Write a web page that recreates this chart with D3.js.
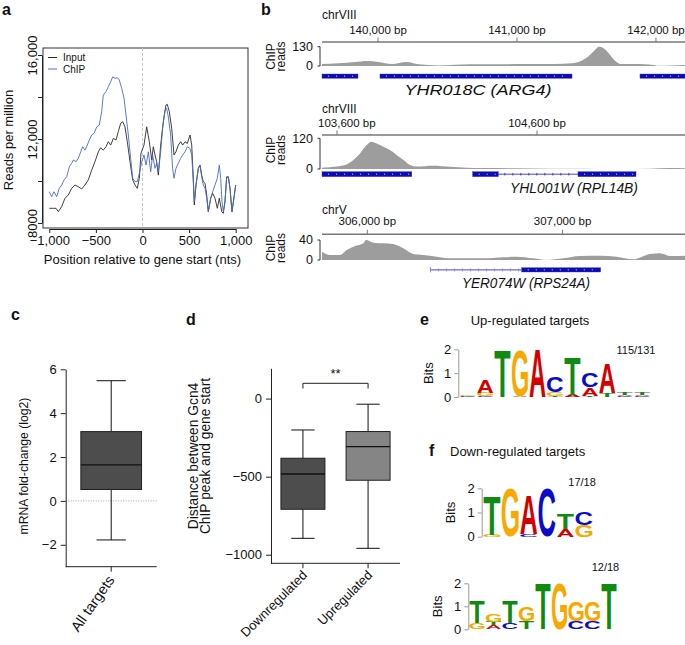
<!DOCTYPE html>
<html><head><meta charset="utf-8">
<script src="https://cdn.jsdelivr.net/npm/d3@7"></script>
<style>
body{margin:0;background:#fff}
svg{display:block}
text{font-family:"Liberation Sans",Arial,Helvetica,sans-serif}
</style></head><body>
<svg id="fig" width="685" height="645"></svg>
<script>
// ================= DATA =================
// Panel a: meta-gene profile
const aXTicks = [-1000, -500, 0, 500, 1000];
const aYTicks = [8000, 10000, 12000, 14000, 16000];
const aYTickLabels = ["8000", "", "12,000", "", "16,000"];
const aSeriesNames = ["Input", "ChIP"];
const chipPos = [-1000,-974,-950,-921,-893,-867,-842,-813,-785,-760,-742,-713,-689,-663,-642,-617,-592,-571,-545,-520,-491,-464,-438,-421,-392,-367,-341,-320,-295,-270,-249,-223,-198,-177,-152,-127,-105,-80,-56,-34,-9,16,38,63,88,109,134,152,170,195,216,241,259,277,302,323,338,359,384,410,431,456,481,510,528,545,556,574,599,617,635,652,671,689,706,732,753,778,803,824,839,853,867,885,903,921,939,960,982,1000];
const chipVal = [9490,9250,9490,9250,9650,9810,10050,10200,10680,10840,11000,10920,11080,11390,11630,11470,11710,11950,12190,12270,12580,12660,13300,14090,14250,14490,14730,14960,14890,14920,14810,14410,13940,13140,12190,11080,10130,9970,9970,10370,10900,11240,10760,11390,10440,11240,10600,10840,10440,11390,12510,13380,13460,13060,12190,10600,10130,10600,10840,11080,11240,11390,11630,11550,11240,9970,9020,9810,10600,10760,10200,9810,9650,9180,8540,9180,9490,9810,10130,10760,10130,9010,8540,9010,10130,10200,9650,8540,9180,9810];
const inputPos = [-1000,-957,-928,-903,-867,-832,-796,-760,-724,-689,-653,-617,-582,-545,-510,-474,-449,-421,-392,-367,-341,-313,-284,-260,-234,-212,-188,-163,-134,-105,-80,-56,-34,-16,16,45,73,99,116,134,152,170,195,223,252,266,288,313,338,359,384,410,431,456,481,510,528,545,556,574,599,617,635,652,671,689,706,732,753,778,803,824,850,867,885,903,921,939,960,982,1000];
const inputVal = [8700,8700,8700,8540,8780,9180,9330,9650,9810,9730,9620,9810,10050,10520,10920,11390,11580,11470,11630,11870,11710,12030,11950,12350,12750,12820,12580,11870,10920,10050,9810,9650,10130,11320,11710,12580,11870,11000,11630,11240,10920,10280,11710,12820,13620,13650,13300,12510,11240,11390,11710,11870,11710,11870,11790,12190,11710,10130,8860,9810,10600,10760,10280,9970,9890,9330,8540,9180,9410,9180,8700,9180,8540,8460,9010,10200,10200,9650,8540,9250,9810];

// Panel b: genome browser tracks
const trackChrom = ["chrVIII", "chrVIII", "chrV"];
const trackGene = ["YHR018C (ARG4)", "YHL001W (RPL14B)", "YER074W (RPS24A)"];
const trackMax = [130, 120, 40];
const t1Ticks = [140000, 141000, 142000];
const t2Ticks = [103600, 104600];
const t3Ticks = [306000, 307000];
const t1Pos = [139597,139714,139835,139919,140002,140099,140206,140290,140434,140554,140794,141034,141273,141393,141465,141525,141561,141590,141621,141657,141705,141753,141873,141969,142017,142113,142209];
const t1Cov = [13,18,27,34,27,13,27,11,4,9,11,13,13,18,36,74,108,130,121,90,36,13,13,9,2,4,7];
const t2Pos = [103525,103598,103648,103682,103715,103748,103773,103798,103832,103865,103898,103932,103965,103998,104082,104165,104248,104332,104498,104665,104832,104998,105165,105265,105340];
const t2Cov = [5,10,18,35,61,94,107,100,87,74,55,35,16,10,13,9,5,4,3,1,1,0,1,4,3];
const t3Pos = [305768,305809,305860,305895,305928,305980,305993,306031,306082,306133,306184,306236,306287,306355,306423,306509,306594,306696,306765,306850,306919,307004,307089,307191,307277,307362,307448,307499,307550,307627];
const t3Cov = [16.7,10,10,20,26.7,33.3,40,34.7,33.3,32,23.3,12,10,6.7,3.3,3.3,3.3,5.3,6.7,3.3,0,3.3,8,8.7,6.7,1.3,12,13.3,8,8.7];
const t1Exons = [[139597,139856],[140014,141396],[141885,142209]];
const t2Exons = [[103524,103974],[104278,104407],[104805,105095]];
const t2Introns = [[104407,104805]];
const t3Utr = [[306321,306791]];
const t3Exons = [[306791,307195]];

// Panel c: boxplot
const cCats = ["All targets"];
const cLow = [-1.78], cQ1 = [0.52], cMed = [1.64], cQ3 = [3.16], cHigh = [5.48];
const cYTicks = [-2, 0, 2, 4, 6];

// Panel d: boxplots
const dCats = ["Downregulated", "Upregulated"];
const dLow = [-895, -959], dQ1 = [-709, -523], dMed = [-483, -308], dQ3 = [-382, -211], dHigh = [-201, -36];
const dYTicks = [-1000, -500, 0];
const dSignif = "**";

// Panels e/f: sequence logos (bottom -> top letters, bits)
const logoUp = [
  [["A",0.02],["C",0.03],["G",0.07]],
  [["C",0.04],["G",0.14],["A",0.56]],
  [["T",1.97]],
  [["A",0.03],["G",1.95]],
  [["A",2.0]],
  [["T",0.06],["G",0.14],["C",0.66]],
  [["A",0.08],["T",1.57]],
  [["T",0.05],["A",0.34],["C",0.6]],
  [["T",0.15],["A",1.26]],
  [["C",0.03],["A",0.05],["T",0.08]],
  [["C",0.03],["A",0.06],["T",0.08]]
];
const logoDown1 = [
  [["G",0.08],["T",1.61]],
  [["G",2.0]],
  [["C",0.1],["A",1.63]],
  [["C",2.0]],
  [["A",0.3],["T",0.62]],
  [["G",0.47],["C",0.55]]
];
const logoDown2 = [
  [["G",0.26],["T",0.94]],
  [["A",0.19],["T",0.14],["G",0.36]],
  [["C",0.26],["T",0.94]],
  [["T",0.33],["G",0.65]],
  [["T",2.0]],
  [["G",2.0]],
  [["C",0.33],["G",0.87]],
  [["C",0.33],["G",0.87]],
  [["T",2.0]]
];
const logoTicks = [0, 1, 2];
const logoCounts = ["115/131", "17/18", "12/18"];
const logoTitles = ["Up-regulated targets", "Down-regulated targets"];

// ================= DRAWING =================
const FONT = '"Liberation Sans", Arial, Helvetica, sans-serif';
const svg = d3.select("#fig");
svg.append("rect").attr("width", 685).attr("height", 645).attr("fill", "#fff");

function txt(g, x, y, s, size, opts = {}) {
  const t = g.append("text").attr("x", x).attr("y", y).text(s)
    .attr("font-size", size).attr("font-family", FONT)
    .attr("text-anchor", opts.anchor || "start")
    .style("fill", opts.fill || "#111");
  if (opts.bold) t.attr("font-weight", "bold");
  if (opts.italic) t.attr("font-style", "italic");
  if (opts.rotate) t.attr("transform", `rotate(${opts.rotate},${x},${y})`);
  if (opts.dy) t.attr("dy", opts.dy);
  return t;
}
function styleAxis(g, size) {
  g.attr("font-family", FONT).attr("font-size", size);
  g.selectAll("text").style("fill", "#111");
  g.selectAll("line,path").attr("stroke", "#222");
}

// ---------- Panel a ----------
const ga = svg.append("g");
txt(ga, 2, 15, "a", 16, {bold: true});
const ax = d3.scaleLinear().domain([-1000, 1000]).range([49.3, 235.7]);
const ay = d3.scaleLinear().domain([8000, 16000]).range([223, 55]);
ga.append("rect").attr("x", 43).attr("y", 48).attr("width", 205).attr("height", 180)
  .attr("fill", "none").attr("stroke", "#333").attr("stroke-width", 1);
ga.append("line").attr("x1", ax(0)).attr("x2", ax(0)).attr("y1", 48).attr("y2", 228)
  .attr("stroke", "#c8c8c8").attr("stroke-dasharray", "3,2");
const aLine = d3.line().x(d => ax(d[0])).y(d => ay(d[1]));
ga.append("path").datum(d3.zip(inputPos, inputVal)).attr("d", aLine)
  .attr("fill", "none").attr("stroke", "#2a2a2a").attr("stroke-width", 0.9);
ga.append("path").datum(d3.zip(chipPos, chipVal)).attr("d", aLine)
  .attr("fill", "none").attr("stroke", "#4a6cc8").attr("stroke-width", 0.9);
const axA = ga.append("g").attr("transform", "translate(0,229)")
  .call(d3.axisBottom(ax).tickValues(aXTicks).tickSize(4).tickSizeOuter(0).tickPadding(3));
styleAxis(axA, 13);
const ayA = ga.append("g").attr("transform", "translate(42,0)")
  .call(d3.axisLeft(ay).tickValues(aYTicks).tickSize(4).tickSizeOuter(0)
    .tickFormat((d, i) => aYTickLabels[i]));
styleAxis(ayA, 13);
ayA.selectAll("text").attr("transform", "rotate(-90)").attr("x", 0).attr("y", -5.5)
  .attr("dy", 0).attr("text-anchor", "middle");
txt(ga, 142.5, 264, "Position relative to gene start (nts)", 13, {anchor: "middle"});
txt(ga, 12.5, 140, "Reads per million", 13, {anchor: "middle", rotate: -90});
// legend
const legColors = ["#2a2a2a", "#4a6cc8"];
aSeriesNames.forEach((n, i) => {
  const y = 57.5 + i * 11.5;
  ga.append("line").attr("x1", 48).attr("x2", 57).attr("y1", y).attr("y2", y)
    .attr("stroke", legColors[i]).attr("stroke-width", 1);
  txt(ga, 63, y + 3.5, n, 10);
});

// ---------- Panel b ----------
const gb = svg.append("g");
txt(gb, 261, 15, "b", 16, {bold: true});
const trackLayout = [
  {ticks: t1Ticks, pos: t1Pos, cov: t1Cov, exons: t1Exons, introns: [], utr: [], domain: [139597, 142209],
   yChr: 19, yTick: 33.5, yAxis: 42, yTop: 46.7, yBase: 66, g0: 74, g1: 78.3, yName: 95, nameW: 147, nameX: 478, yLab: 56.5},
  {ticks: t2Ticks, pos: t2Pos, cov: t2Cov, exons: t2Exons, introns: t2Introns, utr: [], domain: [103525, 105340],
   yChr: 113, yTick: 126.5, yAxis: 135, yTop: 138.3, yBase: 169, g0: 171.7, g1: 176.7, yName: 193, nameW: 128, nameX: 574, yLab: 150},
  {ticks: t3Ticks, pos: t3Pos, cov: t3Cov, exons: t3Exons, introns: [], utr: t3Utr, domain: [305768, 307627],
   yChr: 214, yTick: 224.5, yAxis: 234.3, yTop: 240, yBase: 260, g0: 267.7, g1: 272, yName: 288, nameW: 128, nameX: 526, yLab: 248}
];
trackLayout.forEach((T, k) => {
  const x = d3.scaleLinear().domain(T.domain).range([322, 685]);
  const y = d3.scaleLinear().domain([0, trackMax[k]]).range([T.yBase, T.yTop]);
  txt(gb, 322, T.yChr, trackChrom[k], 12);
  gb.append("line").attr("x1", 322).attr("x2", 685).attr("y1", T.yAxis).attr("y2", T.yAxis)
    .attr("stroke", "#777").attr("stroke-width", 1.6);
  T.ticks.forEach(t => {
    const tx = x(t);
    gb.append("line").attr("x1", tx).attr("x2", tx).attr("y1", T.yAxis - 4.5).attr("y2", T.yAxis)
      .attr("stroke", "#777").attr("stroke-width", 1);
    const lab = txt(gb, tx, T.yTick, d3.format(",")(t) + " bp", 11.5, {anchor: "middle"});
    const w = lab.node().getComputedTextLength();
    if (tx - w / 2 < 318) lab.attr("x", 318 + w / 2);
  });
  // coverage
  const area = d3.area().x((d) => x(d[0])).y0(T.yBase).y1(d => y(d[1])).curve(d3.curveMonotoneX);
  gb.append("path").datum(d3.zip(T.pos, T.cov)).attr("d", area).attr("fill", "#9d9d9d");
  // data range bracket
  gb.append("path").attr("d", `M317.5,${T.yTop}H320V${T.yBase}H317.5`)
    .attr("fill", "none").attr("stroke", "#333").attr("stroke-width", 1);
  txt(gb, 313, T.yTop, String(trackMax[k]), 12.5, {anchor: "end", dy: "0.35em"});
  txt(gb, 313, T.yBase, "0", 12.5, {anchor: "end", dy: "0.35em"});
  txt(gb, 275, T.yLab, "ChIP", 12, {anchor: "middle", rotate: -90});
  txt(gb, 284.5, T.yLab, "reads", 12, {anchor: "middle", rotate: -90});
  // gene model
  const gm = (T.g0 + T.g1) / 2;
  T.utr.forEach(([s, e]) => {
    gb.append("rect").attr("x", x(s)).attr("y", gm - 0.8).attr("width", x(e) - x(s)).attr("height", 1.6)
      .attr("fill", "#8a8ae8");
    gb.append("rect").attr("x", x(s)).attr("y", gm - 2.5).attr("width", 1).attr("height", 5).attr("fill", "#8a8ae8");
    for (let px = x(s) + 8; px < x(e) - 3; px += 8)
      gb.append("rect").attr("x", px).attr("y", gm - 1.5).attr("width", 0.9).attr("height", 3).attr("fill", "#8a8ae8");
  });
  T.introns.forEach(([s, e]) => {
    gb.append("line").attr("x1", x(s)).attr("x2", x(e)).attr("y1", gm).attr("y2", gm)
      .attr("stroke", "#3030d8").attr("stroke-width", 0.9);
    for (let px = x(s) + 6; px < x(e) - 3; px += 8)
      gb.append("rect").attr("x", px).attr("y", gm - 1.3).attr("width", 0.9).attr("height", 2.6).attr("fill", "#3030d8");
  });
  T.exons.forEach(([s, e]) => {
    const x0 = Math.max(322, x(s)), x1 = Math.min(685, x(e));
    gb.append("rect").attr("x", x0).attr("y", T.g0).attr("width", x1 - x0).attr("height", T.g1 - T.g0)
      .attr("fill", "#0c0cb0").attr("stroke", "#3a3ae0").attr("stroke-width", 0.4);
    for (let px = x0 + 6; px < x1 - 3; px += 8)
      gb.append("rect").attr("x", px).attr("y", gm - 0.5).attr("width", 1.1).attr("height", 1).attr("fill", "#c8c8ff");
  });
  txt(gb, T.nameX, T.yName, trackGene[k], 14, {anchor: "middle", italic: true})
    .attr("textLength", T.nameW).attr("lengthAdjust", "spacingAndGlyphs");
});

// ---------- Panel c ----------
const gc = svg.append("g");
txt(gc, 11, 320, "c", 16, {bold: true});
const cx = d3.scalePoint().domain(cCats).range([65.7, 156.7]).padding(0.5);
const cy = d3.scaleLinear().domain([-3, 6]).range([566.7, 369.3]);
gc.append("line").attr("x1", 65.7).attr("x2", 156.7).attr("y1", cy(0)).attr("y2", cy(0))
  .attr("stroke", "#888").attr("stroke-dasharray", "1,1.5").attr("stroke-width", 0.8);
function drawBox(g, xc, yS, lo, q1, med, q3, hi, bw, cw, fill) {
  g.append("line").attr("x1", xc).attr("x2", xc).attr("y1", yS(lo)).attr("y2", yS(hi)).attr("stroke", "#111");
  [lo, hi].forEach(v => g.append("line").attr("x1", xc - cw / 2).attr("x2", xc + cw / 2)
    .attr("y1", yS(v)).attr("y2", yS(v)).attr("stroke", "#111"));
  g.append("rect").attr("x", xc - bw / 2).attr("y", yS(q3)).attr("width", bw).attr("height", yS(q1) - yS(q3))
    .attr("fill", fill).attr("stroke", "#222").attr("stroke-width", 1);
  g.append("line").attr("x1", xc - bw / 2).attr("x2", xc + bw / 2).attr("y1", yS(med)).attr("y2", yS(med))
    .attr("stroke", "#111").attr("stroke-width", 1.3);
}
cCats.forEach((c, i) => drawBox(gc, cx(c), cy, cLow[i], cQ1[i], cMed[i], cQ3[i], cHigh[i], 60.7, 29.3, "#4d4d4d"));
const cAxY = gc.append("g").attr("transform", "translate(65.7,0)")
  .call(d3.axisLeft(cy).tickValues(cYTicks).tickSize(5).tickPadding(4).tickSizeOuter(0));
styleAxis(cAxY, 13);
gc.append("line").attr("x1", 65.7).attr("x2", 156.7).attr("y1", 566.7).attr("y2", 566.7).attr("stroke", "#222");
cCats.forEach(c => {
  gc.append("line").attr("x1", cx(c)).attr("x2", cx(c)).attr("y1", 566.7).attr("y2", 571.7).attr("stroke", "#222");
  txt(gc, cx(c) + 4, 580, c, 14.5, {anchor: "end", rotate: -55});
});
txt(gc, 28, 466, "mRNA fold-change (log2)", 12.2, {anchor: "middle", rotate: -90});

// ---------- Panel d ----------
const gd = svg.append("g");
txt(gd, 186, 325, "d", 16, {bold: true});
const dx = d3.scalePoint().domain(dCats).range([271, 400]).padding(0.49);
const dy = d3.scaleLinear().domain([-1055, 194]).range([563.3, 368.3]);
const dFills = ["#4d4d4d", "#858585"];
dCats.forEach((c, i) => drawBox(gd, dx(c), dy, dLow[i], dQ1[i], dMed[i], dQ3[i], dHigh[i], 44, 23.3, dFills[i]));
const dAxY = gd.append("g").attr("transform", "translate(271,0)")
  .call(d3.axisLeft(dy).tickValues(dYTicks).tickSize(5).tickPadding(4).tickSizeOuter(0).tickFormat(d3.format("d")));
styleAxis(dAxY, 13);
gd.append("line").attr("x1", 271).attr("x2", 400).attr("y1", 563.3).attr("y2", 563.3).attr("stroke", "#222");
dCats.forEach(c => {
  gd.append("line").attr("x1", dx(c)).attr("x2", dx(c)).attr("y1", 563.3).attr("y2", 568.3).attr("stroke", "#222");
  txt(gd, dx(c) + 5, 576, c, 13, {anchor: "end", rotate: -45});
});
// significance bracket
gd.append("path").attr("d", `M${dx(dCats[0])},388.5V383.3H${dx(dCats[1])}V388.5`)
  .attr("fill", "none").attr("stroke", "#222");
txt(gd, (dx(dCats[0]) + dx(dCats[1])) / 2, 378, dSignif, 13, {anchor: "middle"});
txt(gd, 198, 456, "Distance between Gcn4", 13.8, {anchor: "middle", rotate: -90});
txt(gd, 209.5, 456, "ChIP peak and gene start", 13.8, {anchor: "middle", rotate: -90});

// ---------- Panels e/f ----------
const LOGO_COL = {A: "#d40000", C: "#0c0cc8", G: "#f7a900", T: "#118a11"};
const cvs = document.createElement("canvas").getContext("2d");
const inkCache = {};
function ink(L) {
  if (!inkCache[L]) {
    cvs.font = `bold 100px ${FONT}`;
    const m = cvs.measureText(L);
    inkCache[L] = {l: m.actualBoundingBoxLeft, r: m.actualBoundingBoxRight, a: m.actualBoundingBoxAscent, d: m.actualBoundingBoxDescent};
  }
  return inkCache[L];
}
function drawLogo(g, cols, axisX, x0, colW, y0, y2, bitsX, countIdx, countX, countY) {
  const yS = d3.scaleLinear().domain([0, 2]).range([y0, y2]);
  cols.forEach((col, i) => {
    let base = 0;
    col.forEach(([L, h]) => {
      const yb = yS(base), yt = yS(base + h);
      base += h;
      const hp = yb - yt;
      if (hp < 0.25) return;
      const m = ink(L);
      const w = colW * 0.92;
      const sx = w / (m.l + m.r), sy = hp / (m.a + m.d);
      const cx0 = x0 + i * colW + colW * 0.04;
      g.append("text").text(L).attr("font-size", 100).attr("font-weight", "bold").attr("font-family", FONT)
        .style("fill", LOGO_COL[L])
        .attr("transform", `translate(${cx0 + m.l * sx},${yb - m.d * sy}) scale(${sx},${sy})`);
    });
  });
  const axG = g.append("g").attr("transform", `translate(${axisX},0)`)
    .call(d3.axisLeft(yS).tickValues(logoTicks).tickSize(4).tickPadding(3).tickSizeOuter(0).tickFormat(d3.format("d")));
  axG.attr("font-family", FONT).attr("font-size", 13);
  axG.selectAll("line,path").attr("stroke", "#999");
  axG.selectAll("text").style("fill", "#111");
  txt(g, bitsX, (y0 + y2) / 2, "Bits", 13, {anchor: "middle", rotate: -90});
  txt(g, countX, countY, logoCounts[countIdx], 11);
}
const ge = svg.append("g");
txt(ge, 420, 325, "e", 16, {bold: true});
txt(ge, 530, 325, logoTitles[0], 13, {anchor: "middle"});
drawLogo(ge, logoUp, 458.3, 459, 17.45, 397, 349.3, 433, 0, 616.5, 354);
const gf = svg.append("g");
txt(gf, 429, 456, "f", 16, {bold: true});
txt(gf, 450, 456, logoTitles[1], 13);
drawLogo(gf, logoDown1, 481.7, 482.7, 18.4, 536.7, 488.3, 455, 1, 568.3, 486);
drawLogo(gf, logoDown2, 468.3, 468.8, 16.5, 629.3, 583.3, 441.7, 2, 591.7, 570.5);
</script>
</body></html>
